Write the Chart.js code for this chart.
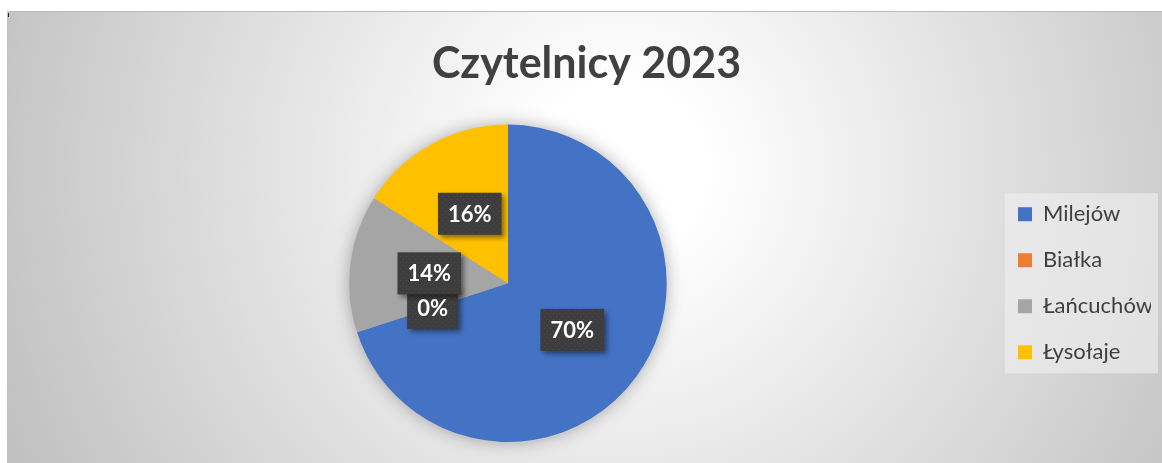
<!DOCTYPE html>
<html>
<head>
<meta charset="utf-8">
<title>Czytelnicy 2023</title>
<script src="https://cdn.jsdelivr.net/npm/chart.js@4/dist/chart.umd.min.js"></script>
<style>
  html, body { margin: 0; padding: 0; background: #fff; }
  canvas { display: block; }
</style>
</head>
<body>
<canvas id="readersChart" width="1162" height="463"></canvas>
<script>
const chartTitle = 'Czytelnicy 2023';
const villages = ['Milejów', 'Białka', 'Łańcuchów', 'Łysołaje'];
const readerShares = [70, 0, 14, 16];
const sliceColors = ['#4472c4', '#ed7d31', '#a5a5a5', '#ffc000'];

const LEGEND_FONT = 22;
const LEGEND_PAD = 24;

// soft grey radial fill behind the whole chart, plus the legend panel
const backgroundPlugin = {
  id: 'background',
  beforeDraw(chart) {
    const ctx = chart.ctx;
    ctx.save();
    ctx.fillStyle = '#ffffff';
    ctx.fillRect(0, 0, chart.width, chart.height);

    const grad = ctx.createRadialGradient(620, 170, 0, 620, 170, 700);
    grad.addColorStop(0, '#ffffff');
    grad.addColorStop(0.12, '#ffffff');
    grad.addColorStop(1, '#bdbdbd');
    ctx.fillStyle = grad;
    ctx.fillRect(7, 11, chart.width - 7, chart.height - 11);

    ctx.fillStyle = '#bcbcbc';
    ctx.fillRect(7, 11, chart.width - 7, 1);
    ctx.fillStyle = '#222222';
    ctx.fillRect(8, 13, 1, 4);

    const legend = chart.legend;
    if (legend) {
      const n = chart.data.labels.length;
      const colHeight = n * (LEGEND_FONT + LEGEND_PAD);
      const itemsTop = (legend.top + LEGEND_PAD + legend.bottom - colHeight) / 2;
      const top = itemsTop - 10;
      const bottom = itemsTop + colHeight - LEGEND_PAD + 10;
      ctx.fillStyle = 'rgba(240, 240, 240, 0.6)';
      ctx.fillRect(legend.left + 11, top, 153, bottom - top);
    }
    ctx.restore();
  },
};

// drop shadow under the pie
const pieShadowPlugin = {
  id: 'pieShadow',
  beforeDatasetsDraw(chart) {
    const arc = chart.getDatasetMeta(0).data[0];
    if (!arc) return;
    const ctx = chart.ctx;
    ctx.save();
    ctx.shadowColor = 'rgba(0, 0, 0, 0.35)';
    ctx.shadowBlur = 18;
    ctx.fillStyle = '#a5a5a5';
    ctx.beginPath();
    ctx.arc(arc.x, arc.y, arc.outerRadius - 1, 0, Math.PI * 2);
    ctx.fill();
    ctx.restore();
  },
};

function makeLabelPattern(ctx) {
  const tile = document.createElement('canvas');
  tile.width = 6;
  tile.height = 6;
  const t = tile.getContext('2d');
  t.fillStyle = '#3d3d3d';
  t.fillRect(0, 0, 6, 6);
  t.fillStyle = '#4a4a4a';
  t.fillRect(1, 1, 1, 1);
  t.fillRect(4, 4, 1, 1);
  return ctx.createPattern(tile, 'repeat');
}

// percentage labels in dark boxes at the middle of each slice
const percentLabelPlugin = {
  id: 'percentLabels',
  afterDatasetsDraw(chart) {
    const ctx = chart.ctx;
    const meta = chart.getDatasetMeta(0);
    const values = chart.data.datasets[0].data;
    const total = values.reduce((a, b) => a + b, 0);
    const pattern = makeLabelPattern(ctx);

    ctx.save();
    ctx.font = 'bold 22px Lato';
    ctx.textAlign = 'center';
    ctx.textBaseline = 'middle';
    meta.data.forEach((arc, i) => {
      const text = Math.round((values[i] / total) * 100) + '%';
      const { x, y } = arc.getCenterPoint();
      const w = ctx.measureText(text).width + 20;
      const h = 42;

      ctx.save();
      ctx.shadowColor = 'rgba(0, 0, 0, 0.45)';
      ctx.shadowBlur = 5;
      ctx.shadowOffsetX = 3;
      ctx.shadowOffsetY = 3;
      ctx.fillStyle = pattern;
      ctx.fillRect(x - w / 2, y - h / 2, w, h);
      ctx.restore();

      ctx.fillStyle = '#ffffff';
      ctx.fillText(text, x, y + 1);
    });
    ctx.restore();
  },
};

const ctx = document.getElementById('readersChart').getContext('2d');

new Chart(ctx, {
  type: 'pie',
  data: {
    labels: villages,
    datasets: [
      {
        data: readerShares,
        backgroundColor: sliceColors,
        borderWidth: 0,
        hoverOffset: 0,
      },
    ],
  },
  options: {
    responsive: false,
    animation: false,
    events: [],
    layout: {
      padding: { left: 22, right: 11, top: 11, bottom: 21 },
    },
    plugins: {
      title: {
        display: true,
        text: chartTitle,
        color: '#404040',
        font: { family: 'Lato', size: 43, weight: 'bold' },
        padding: { top: 27, bottom: 35 },
      },
      legend: {
        position: 'right',
        fullSize: false,
        maxWidth: 157,
        labels: {
          boxWidth: 14,
          boxHeight: 14,
          padding: LEGEND_PAD,
          color: '#404040',
          font: { family: 'Lato', size: LEGEND_FONT },
        },
      },
      tooltip: { enabled: false },
    },
  },
  plugins: [backgroundPlugin, pieShadowPlugin, percentLabelPlugin],
});
</script>
</body>
</html>
